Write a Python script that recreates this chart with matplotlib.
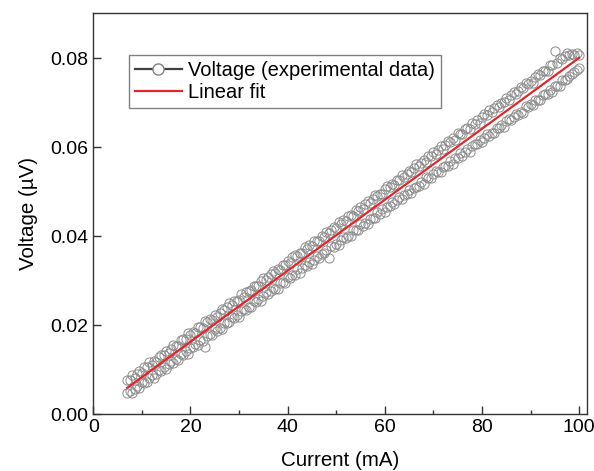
import numpy as np
import matplotlib
matplotlib.use('Agg')
import matplotlib.pyplot as plt
from matplotlib.lines import Line2D

plt.rcParams['font.family'] = ['Liberation Sans', 'DejaVu Sans']

# current sweep (mA), 0.5 mA steps, same grid for both branches
current = np.arange(7.0, 100.01, 0.5)

# upper branch of the measured voltage (uV)
volt_up = [
    0.0077, 0.0076, 0.0087, 0.0082, 0.0090, 0.0096, 0.0093, 0.0106, 0.0105, 0.0116,
    0.0111, 0.0119, 0.0116, 0.0129, 0.0132, 0.0132, 0.0142, 0.0138, 0.0146, 0.0156,
    0.0154, 0.0154, 0.0166, 0.0168, 0.0168, 0.0181, 0.0177, 0.0185, 0.0183, 0.0195,
    0.0195, 0.0193, 0.0208, 0.0206, 0.0213, 0.0212, 0.0222, 0.0218, 0.0228, 0.0235,
    0.0233, 0.0240, 0.0250, 0.0244, 0.0254, 0.0255, 0.0257, 0.0269, 0.0262, 0.0275,
    0.0277, 0.0278, 0.0288, 0.0288, 0.0287, 0.0298, 0.0306, 0.0301, 0.0307, 0.0315,
    0.0321, 0.0318, 0.0325, 0.0324, 0.0336, 0.0335, 0.0343, 0.0339, 0.0352, 0.0358,
    0.0355, 0.0361, 0.0361, 0.0375, 0.0372, 0.0379, 0.0378, 0.0389, 0.0390, 0.0388,
    0.0400, 0.0399, 0.0410, 0.0408, 0.0413, 0.0421, 0.0419, 0.0432, 0.0428, 0.0435,
    0.0433, 0.0445, 0.0448, 0.0446, 0.0459, 0.0457, 0.0465, 0.0460, 0.0472, 0.0478,
    0.0475, 0.0484, 0.0493, 0.0489, 0.0495, 0.0494, 0.0506, 0.0512, 0.0510, 0.0517,
    0.0515, 0.0527, 0.0525, 0.0537, 0.0532, 0.0540, 0.0547, 0.0543, 0.0554, 0.0561,
    0.0558, 0.0564, 0.0572, 0.0566, 0.0579, 0.0579, 0.0589, 0.0585, 0.0594, 0.0602,
    0.0596, 0.0605, 0.0613, 0.0611, 0.0620, 0.0616, 0.0631, 0.0629, 0.0630, 0.0641,
    0.0643, 0.0641, 0.0654, 0.0652, 0.0660, 0.0655, 0.0667, 0.0674, 0.0672, 0.0684,
    0.0679, 0.0687, 0.0695, 0.0690, 0.0700, 0.0702, 0.0710, 0.0705, 0.0717, 0.0724,
    0.0720, 0.0727, 0.0735, 0.0732, 0.0744, 0.0742, 0.0749, 0.0745, 0.0758, 0.0764,
    0.0761, 0.0771, 0.0771, 0.0771, 0.0785, 0.0785, 0.0817, 0.0788, 0.0800, 0.0798,
    0.0805, 0.0811, 0.0806, 0.0809, 0.0808, 0.0811, 0.0807,
]

# lower branch of the measured voltage (uV)
volt_down = [
    0.0048, 0.0052, 0.0047, 0.0057, 0.0063, 0.0059, 0.0073, 0.0070, 0.0072, 0.0081,
    0.0088, 0.0081, 0.0091, 0.0099, 0.0097, 0.0106, 0.0102, 0.0112, 0.0120, 0.0115,
    0.0124, 0.0122, 0.0136, 0.0133, 0.0141, 0.0136, 0.0148, 0.0150, 0.0158, 0.0155,
    0.0167, 0.0164, 0.0150, 0.0175, 0.0180, 0.0177, 0.0191, 0.0187, 0.0194, 0.0192,
    0.0205, 0.0205, 0.0206, 0.0218, 0.0216, 0.0223, 0.0218, 0.0231, 0.0236, 0.0234,
    0.0241, 0.0240, 0.0253, 0.0251, 0.0259, 0.0255, 0.0266, 0.0274, 0.0269, 0.0276,
    0.0284, 0.0281, 0.0281, 0.0294, 0.0296, 0.0295, 0.0308, 0.0306, 0.0313, 0.0312,
    0.0325, 0.0318, 0.0328, 0.0334, 0.0333, 0.0342, 0.0338, 0.0346, 0.0355, 0.0351,
    0.0360, 0.0361, 0.0369, 0.0350, 0.0378, 0.0376, 0.0383, 0.0380, 0.0392, 0.0399,
    0.0395, 0.0401, 0.0401, 0.0413, 0.0414, 0.0414, 0.0426, 0.0423, 0.0430, 0.0426,
    0.0439, 0.0441, 0.0441, 0.0453, 0.0450, 0.0460, 0.0455, 0.0466, 0.0467, 0.0477,
    0.0472, 0.0480, 0.0487, 0.0483, 0.0493, 0.0494, 0.0504, 0.0497, 0.0509, 0.0511,
    0.0512, 0.0522, 0.0518, 0.0532, 0.0530, 0.0531, 0.0540, 0.0547, 0.0545, 0.0544,
    0.0556, 0.0558, 0.0558, 0.0569, 0.0561, 0.0575, 0.0575, 0.0586, 0.0581, 0.0590,
    0.0595, 0.0590, 0.0602, 0.0608, 0.0607, 0.0615, 0.0611, 0.0620, 0.0630, 0.0625,
    0.0632, 0.0631, 0.0643, 0.0642, 0.0649, 0.0645, 0.0658, 0.0664, 0.0660, 0.0667,
    0.0675, 0.0672, 0.0679, 0.0677, 0.0692, 0.0689, 0.0696, 0.0695, 0.0706, 0.0706,
    0.0706, 0.0718, 0.0719, 0.0719, 0.0728, 0.0724, 0.0737, 0.0738, 0.0738, 0.0751,
    0.0751, 0.0752, 0.0759, 0.0765, 0.0768, 0.0774, 0.0778,
]

x_ticks = [0, 20, 40, 60, 80, 100]
y_ticks = [0.00, 0.02, 0.04, 0.06, 0.08]

cur_all = np.concatenate([current, current])
volt_all = np.concatenate([volt_up, volt_down])
slope, icpt = np.polyfit(cur_all, volt_all, 1)
fit_x = np.array([cur_all.min(), cur_all.max()])

fig = plt.figure(figsize=(5.94, 4.71), dpi=100)
ax = fig.add_axes([0.157, 0.121, 0.831, 0.851])

mk = dict(ls='none', marker='o', ms=6.6, mfc='none', mec='#8c8c8c', mew=0.7)
ax.plot(current, volt_up, **mk)
ax.plot(current, volt_down, **mk)
ax.plot(fit_x, icpt + slope * fit_x, color='#e3262b', lw=1.6)

ax.set_xlim(0, 101.6)
ax.set_ylim(0, 0.0901)
ax.set_xticks(x_ticks)
ax.set_xticks([10, 30, 50, 70, 90], minor=True)
ax.set_yticks(y_ticks)
ax.set_yticklabels(['%.2f' % v for v in y_ticks])
ax.tick_params(which='both', direction='in', top=False, right=False,
               labelsize=14, color='#333333', width=1)
ax.tick_params(which='major', length=6)
ax.tick_params(which='minor', length=3)
for s in ax.spines.values():
    s.set_color('#333333')
    s.set_linewidth(1)

ax.set_xlabel('Current (mA)', fontsize=14.8, labelpad=11)
ax.set_ylabel('Voltage (\u00b5V)', fontsize=14.8, labelpad=9)

h_data = Line2D([], [], color='#404040', lw=1.6, marker='o', ms=8,
                mfc='white', mec='#808080', mew=1)
h_fit = Line2D([], [], color='#e3262b', lw=1.6)
leg = ax.legend([h_data, h_fit], ['Voltage (experimental data)', 'Linear fit'],
                loc='upper left', bbox_to_anchor=(0.073, 0.895), borderaxespad=0,
                fontsize=14.5, fancybox=False, edgecolor='#808080',
                handlelength=2.3, handletextpad=0.3, borderpad=0.3,
                labelspacing=0.15, framealpha=1)
leg.get_frame().set_linewidth(1)

fig.savefig('out.png', dpi=100)
